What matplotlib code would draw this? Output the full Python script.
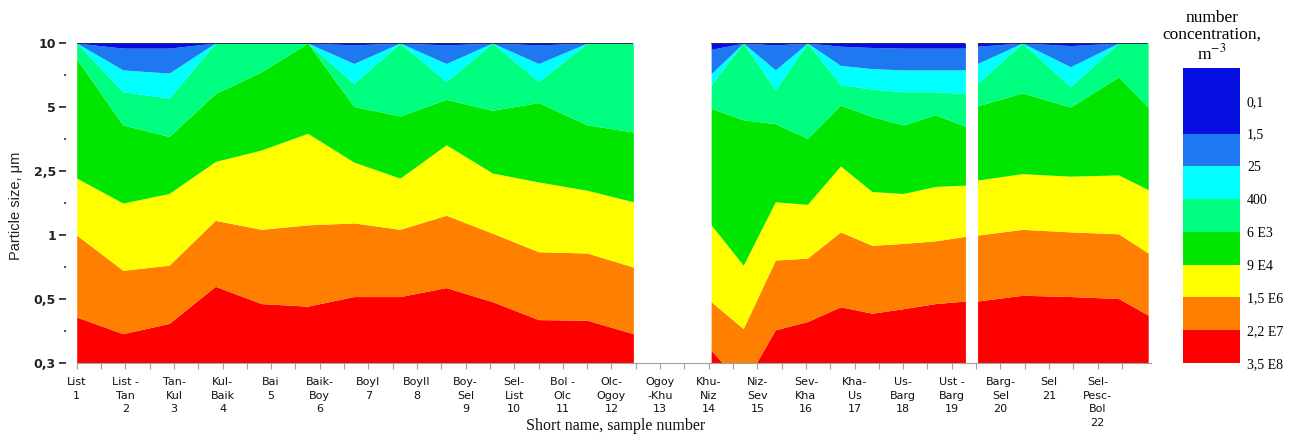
import numpy as np
import matplotlib
matplotlib.use('Agg')
import matplotlib.pyplot as plt
from matplotlib.colors import ListedColormap, BoundaryNorm
from matplotlib.cm import ScalarMappable

# size bins (y axis is an index of these bins)
SIZE_LABELS = ['0,3', '0,5', '1', '2,5', '5', '10']

SAMPLE_LABELS = ['List\n1', 'List -\nTan\n2', 'Tan-\nKul\n3', 'Kul-\nBaik\n4', 'Bai\n5',
                 'Baik-\nBoy\n6', 'BoyI\n7', 'BoyII\n8', 'Boy-\nSel\n9', 'Sel-\nList\n10',
                 'Bol -\nOlc\n11', 'Olc-\nOgoy\n12', 'Ogoy\n-Khu\n13', 'Khu-\nNiz\n14',
                 'Niz-\nSev\n15', 'Sev-\nKha\n16', 'Kha-\nUs\n17', 'Us-\nBarg\n18',
                 'Ust -\nBarg\n19', 'Barg-\nSel\n20', 'Sel\n21', 'Sel-\nPesc-\nBol\n22']

LEVEL_LABELS = ['3,5 E8', '2,2 E7', '1,5 E6', '9 E4', '6 E3', '400', '25', '1,5', '0,1']

# band colours, bottom (highest concentration) to top
RED = '#ff0000'
ORANGE = '#ff8000'
YELLOW = '#ffff00'
GREEN = '#00e600'
MGREEN = '#00ff80'
CYAN = '#00ffff'
BLUE = '#1e78f0'
DBLUE = '#0510e0'

# group 1: samples 1-12, upper edge of each band per grid column
X1 = [1.0, 1.95, 2.9, 3.85, 4.8, 5.75, 6.7, 7.65, 8.6, 9.55, 10.5, 11.5, 12.45]
RED1 = [0.72, 0.46, 0.62, 1.20, 0.93, 0.89, 1.04, 1.04, 1.18, 0.96, 0.68, 0.67, 0.46]
ORANGE1 = [2.0, 1.45, 1.53, 2.23, 2.09, 2.16, 2.19, 2.09, 2.31, 2.03, 1.74, 1.72, 1.50]
YELLOW1 = [2.89, 2.50, 2.65, 3.15, 3.33, 3.59, 3.14, 2.89, 3.41, 2.97, 2.83, 2.70, 2.52]
GREEN1 = [4.75, 3.72, 3.54, 4.21, 4.55, 5.0, 4.01, 3.86, 4.12, 3.95, 4.07, 3.72, 3.61]
MGREEN1 = [5, 4.24, 4.14, 5, 5, 5, 4.37, 5, 4.40, 5, 4.40, 5, 5]
CYAN1 = [5, 4.58, 4.53, 5, 5, 5, 4.68, 5, 4.68, 5, 4.68, 5, 5]
BLUE1 = [5, 4.92, 4.92, 5, 5, 5, 4.97, 5, 4.97, 5, 4.97, 5, 5]

# group 2: samples 14-19
X2 = [14.05, 14.71, 15.37, 16.03, 16.71, 17.36, 18.0, 18.66, 19.28]
RED2 = [0.20, -0.35, 0.52, 0.65, 0.88, 0.78, 0.85, 0.93, 0.97]
ORANGE2 = [0.96, 0.54, 1.61, 1.64, 2.05, 1.84, 1.87, 1.91, 1.98]
YELLOW2 = [2.16, 1.53, 2.52, 2.48, 3.08, 2.68, 2.65, 2.76, 2.78]
GREEN2 = [3.98, 3.80, 3.74, 3.51, 4.03, 3.85, 3.72, 3.88, 3.70]
MGREEN2 = [4.35, 5, 4.27, 5, 4.35, 4.28, 4.24, 4.24, 4.21]
CYAN2 = [4.52, 5, 4.58, 5, 4.65, 4.60, 4.58, 4.58, 4.58]
BLUE2 = [4.90, 5, 4.97, 5, 4.95, 4.93, 4.92, 4.92, 4.92]

# group 3: samples 20-22
X3 = [19.53, 20.45, 21.44, 22.43, 23.04]
RED3 = [0.97, 1.06, 1.04, 1.01, 0.75]
ORANGE3 = [2.0, 2.09, 2.05, 2.02, 1.72]
YELLOW3 = [2.86, 2.96, 2.92, 2.94, 2.71]
GREEN3 = [4.02, 4.22, 4.0, 4.47, 4.0]
MGREEN3 = [4.37, 5, 4.32, 5, 5]
CYAN3 = [4.68, 5, 4.63, 5, 5]
BLUE3 = [4.95, 5, 4.96, 5, 5]

TOP = len(SIZE_LABELS) - 1

fig = plt.figure(figsize=(12.96, 4.37), dpi=100)
ax = fig.add_axes([0.0592, 0.169, 0.829, 0.7326])


def draw_group(x, tops):
    x = np.array(x)
    lower = np.zeros(len(x))
    cols = [RED, ORANGE, YELLOW, GREEN, MGREEN, CYAN, BLUE, DBLUE]
    for c, up in zip(cols, tops + [np.full(len(x), TOP)]):
        ax.fill_between(x, lower, up, color=c, lw=0, zorder=1)
        lower = np.array(up, dtype=float)
    ax.hlines(TOP, x[0], x[-1], color='#141450', lw=1.2, zorder=2)


draw_group(X1, [RED1, ORANGE1, YELLOW1, GREEN1, MGREEN1, CYAN1, BLUE1])
draw_group(X2, [RED2, ORANGE2, YELLOW2, GREEN2, MGREEN2, CYAN2, BLUE2])
draw_group(X3, [RED3, ORANGE3, YELLOW3, GREEN3, MGREEN3, CYAN3, BLUE3])

ax.set_xlim(1, 23.1)
ax.set_ylim(0, TOP)

for s in ['top', 'right']:
    ax.spines[s].set_visible(False)
ax.spines['left'].set_visible(False)
ax.spines['left'].set_position(('outward', 8))
ax.spines['bottom'].set_color('#a0a0a0')
ax.spines['bottom'].set_zorder(3)

ax.set_yticks(range(len(SIZE_LABELS)))
ax.set_yticklabels(SIZE_LABELS, fontsize=9, fontweight='bold', color='#222222')
ax.set_yticks(np.arange(0.5, TOP, 1.0), minor=True)
ax.tick_params(axis='y', which='major', length=5, width=1.3, color='#333333', pad=2)
ax.tick_params(axis='y', which='minor', length=1.5, width=1.5, color='#555555')

ax.set_xticks(range(1, len(SAMPLE_LABELS) + 1))
ax.set_xticklabels(SAMPLE_LABELS, fontsize=8, family=['Liberation Sans Narrow', 'DejaVu Sans'],
                   linespacing=1.45, va='top', color='#111111')
ax.set_xticks(np.arange(1.5, 23.1, 1.0), minor=True)
ax.tick_params(axis='x', which='both', length=4, width=0.8, color='#a0a0a0', pad=6)

fig.text(0.012, 0.53, 'Particle size, \u03bcm', rotation=90, ha='center', va='center',
         fontsize=10.5, family='Liberation Sans', color='#222222')
fig.text(0.475, 0.026, 'Short name, sample number', ha='center', va='center',
         fontsize=11.5, family='Liberation Serif', color='#111111')

# colour scale
cax = fig.add_axes([0.9128, 0.1693, 0.044, 0.675])
bounds = np.arange(len(LEVEL_LABELS) + 1)
cmap = ListedColormap([RED, ORANGE, YELLOW, GREEN, MGREEN, CYAN, BLUE, DBLUE, DBLUE])
norm = BoundaryNorm(bounds, cmap.N)
cb = fig.colorbar(ScalarMappable(norm=norm, cmap=cmap), cax=cax)
cb.outline.set_visible(False)
for sp in cax.spines.values():
    sp.set_visible(False)
cb.set_ticks(bounds[:-1], labels=LEVEL_LABELS)
cb.ax.minorticks_off()
cb.ax.tick_params(which='both', length=0, pad=5, labelsize=10)
for t in cb.ax.get_yticklabels():
    t.set_family('Liberation Serif')
fig.text(0.935, 0.917, 'number\nconcentration,\nm$^{-3}$', ha='center', va='center',
         fontsize=12.5, family='Liberation Serif', linespacing=1.05,
         math_fontfamily='stix')

fig.savefig('out.png', dpi=100)
